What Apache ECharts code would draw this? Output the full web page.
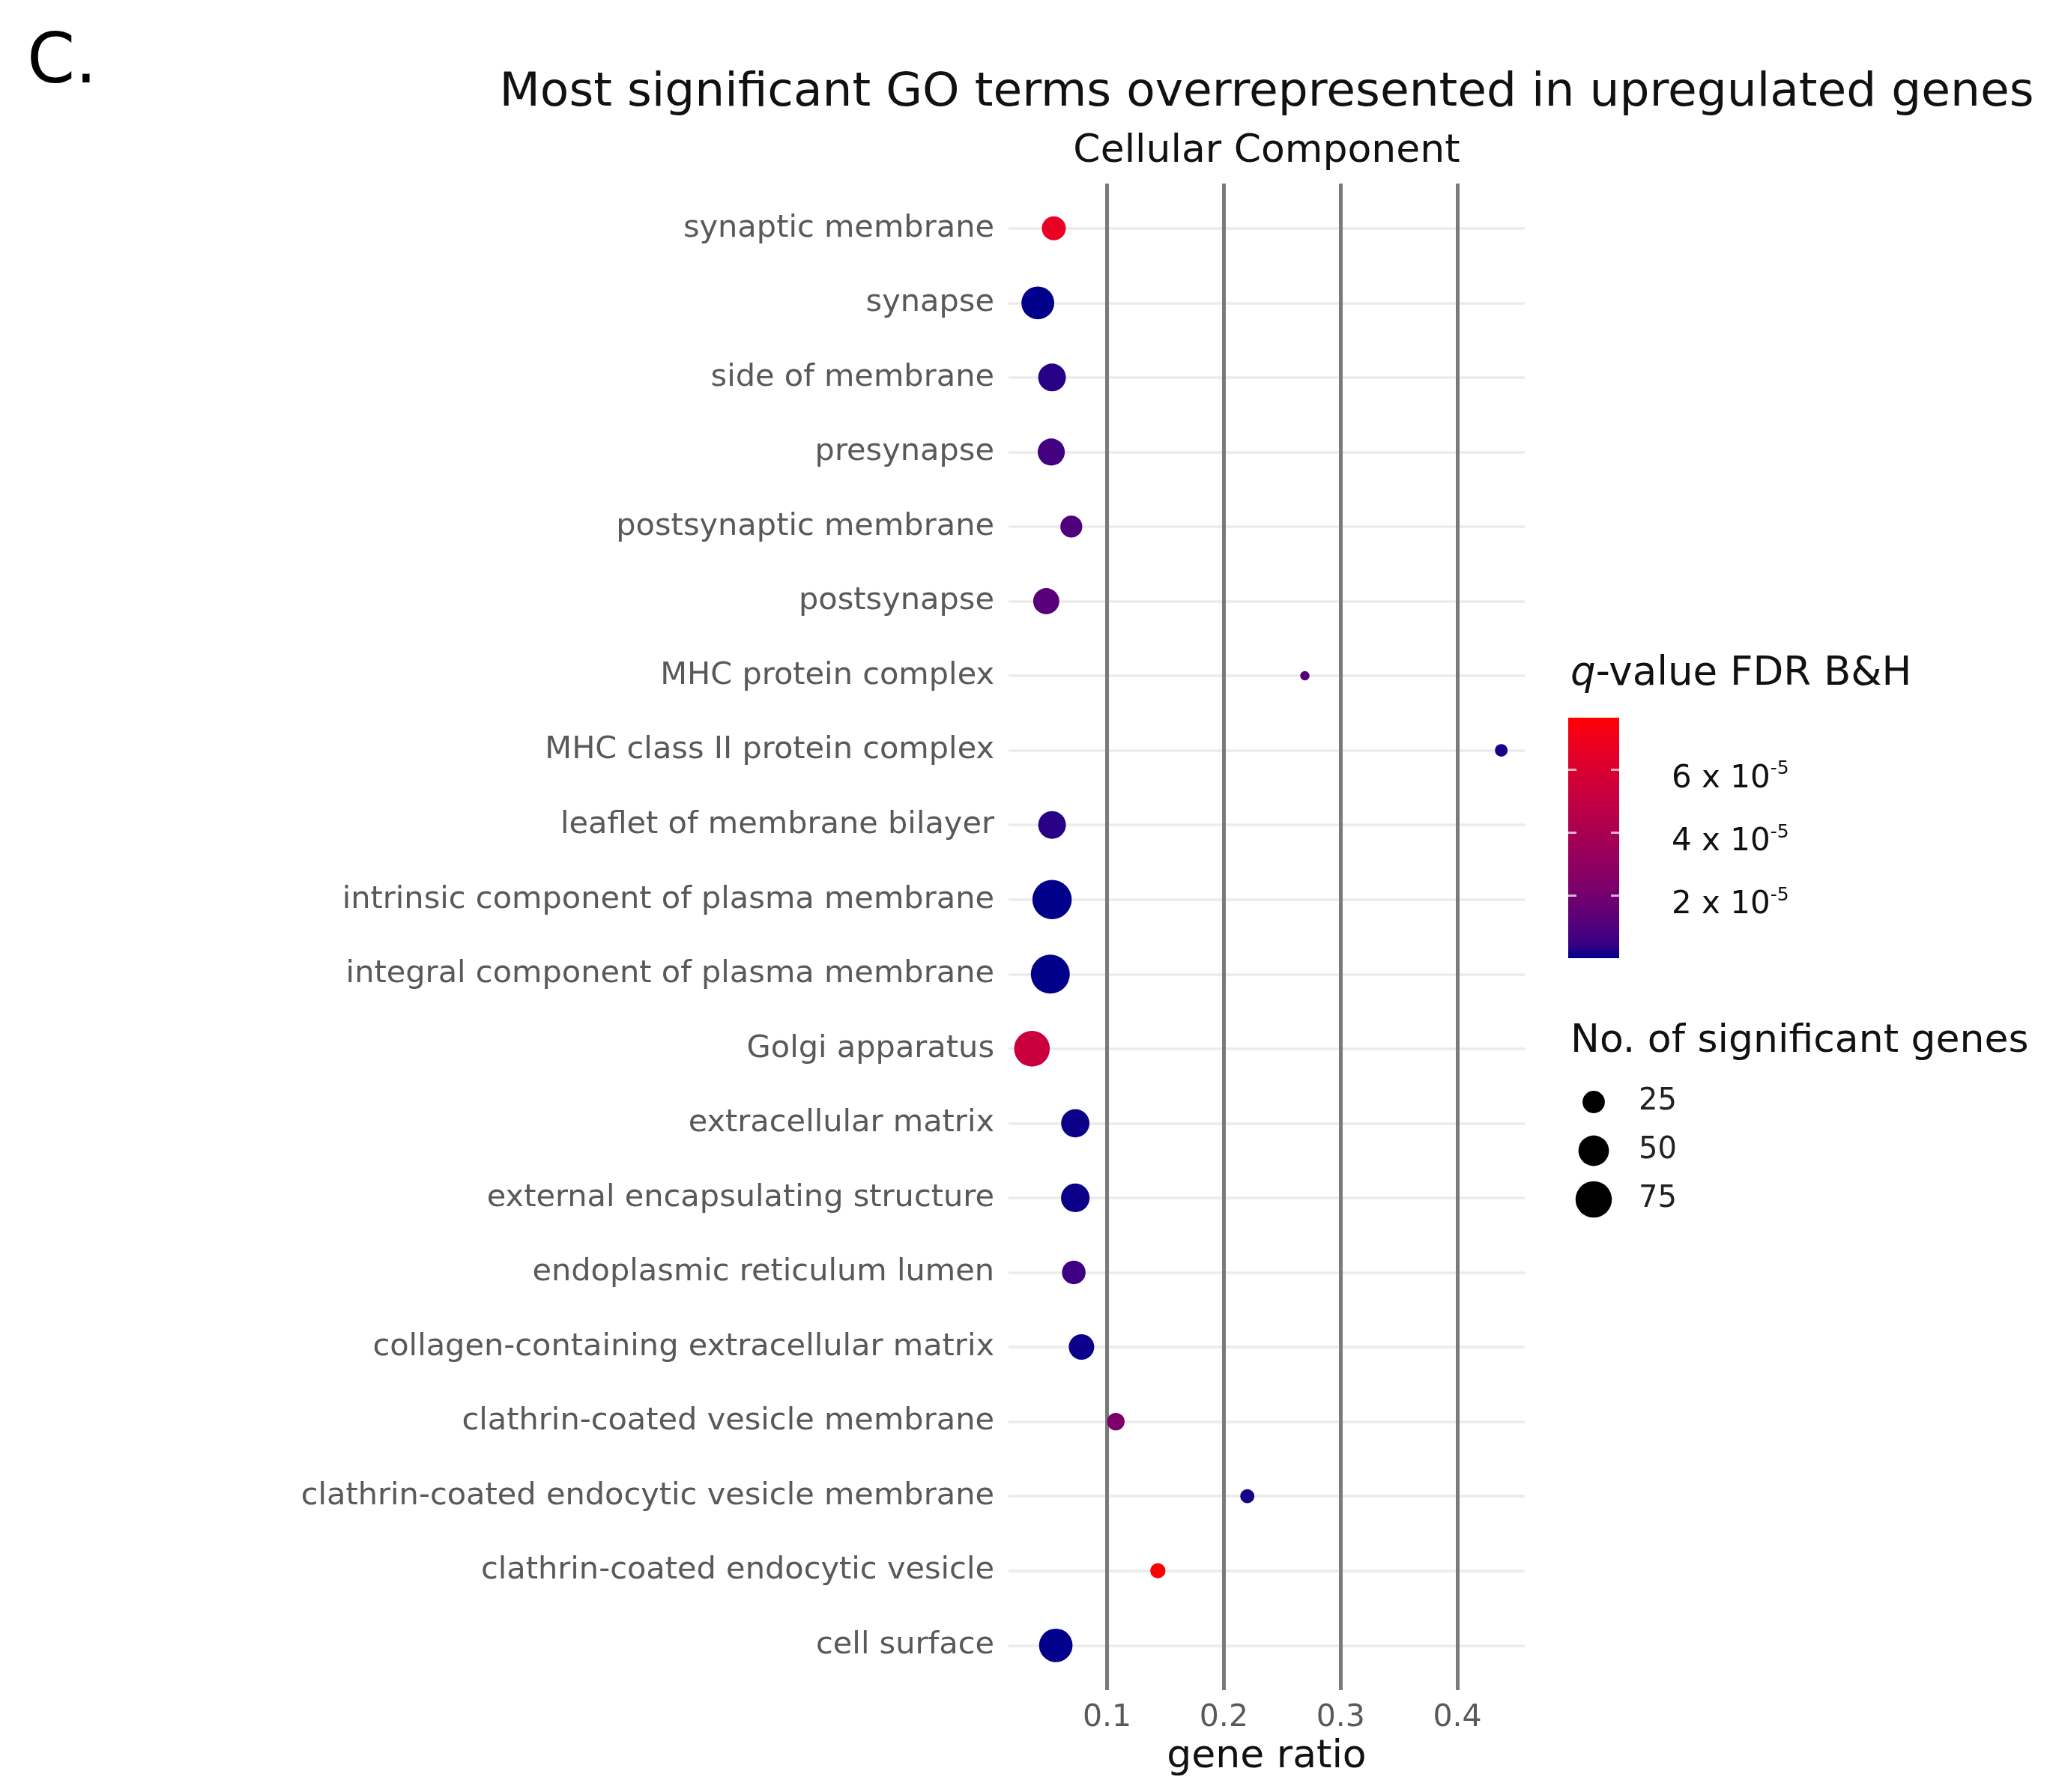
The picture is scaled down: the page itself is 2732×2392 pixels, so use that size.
<!DOCTYPE html>
<html>
<head>
<meta charset="utf-8">
<script src="https://cdn.jsdelivr.net/npm/echarts@6/dist/echarts.min.js"></script>
<style>
html,body{margin:0;padding:0;background:#fff;}
#chart{width:2732px;height:2392px;}
</style>
</head>
<body>
<div id="chart"></div>
<script>
// ---- data (top to bottom as shown) ----
const terms = [
  'synaptic membrane','synapse','side of membrane','presynapse','postsynaptic membrane',
  'postsynapse','MHC protein complex','MHC class II protein complex','leaflet of membrane bilayer',
  'intrinsic component of plasma membrane','integral component of plasma membrane','Golgi apparatus',
  'extracellular matrix','external encapsulating structure','endoplasmic reticulum lumen',
  'collagen-containing extracellular matrix','clathrin-coated vesicle membrane',
  'clathrin-coated endocytic vesicle membrane','clathrin-coated endocytic vesicle','cell surface'
];
const geneRatio = [0.0544,0.0407,0.0529,0.0522,0.0694,0.0479,0.2694,0.4376,0.0529,0.0529,
                   0.0514,0.0357,0.0728,0.0728,0.0715,0.0781,0.1075,0.2201,0.1435,0.0561];
const geneCount = [29,59,40,38,24,35,10,11,40,90,88,72,42,43,28,33,16,12,13,62];
const qValue = [6.7e-5,2e-7,0.3e-5,0.7e-5,1.0e-5,1.2e-5,1.0e-5,0.2e-5,0.3e-5,1e-7,
                1e-7,5.3e-5,1e-6,1e-6,0.6e-5,1e-6,2.3e-5,2e-6,7.64e-5,3e-7];
const xTicks = [0.1,0.2,0.3,0.4];
const qTicks = [2e-5,4e-5,6e-5];
const sizeBreaks = [25,50,75];

// ---- helpers ----
const FONT = 'DejaVu Sans';
function hex2rgb(h){return [parseInt(h.substr(1,2),16),parseInt(h.substr(3,2),16),parseInt(h.substr(5,2),16)];}
function toLab(h){
  const c = hex2rgb(h).map(v=>{v/=255;return v<=0.04045?v/12.92:Math.pow((v+0.055)/1.055,2.4);});
  let X=(0.4124*c[0]+0.3576*c[1]+0.1805*c[2])/0.95047;
  let Y=(0.2126*c[0]+0.7152*c[1]+0.0722*c[2]);
  let Z=(0.0193*c[0]+0.1192*c[1]+0.9505*c[2])/1.08883;
  const f=t=>t>0.008856?Math.cbrt(t):7.787*t+16/116;
  const fx=f(X),fy=f(Y),fz=f(Z);
  return [116*fy-16,500*(fx-fy),200*(fy-fz)];
}
function fromLab(L,a,b){
  const fy=(L+16)/116,fx=fy+a/500,fz=fy-b/200;
  const fi=t=>{const t3=t*t*t;return t3>0.008856?t3:(t-16/116)/7.787;};
  const X=0.95047*fi(fx),Y=fi(fy),Z=1.08883*fi(fz);
  let r=3.2406*X-1.5372*Y-0.4986*Z,g=-0.9689*X+1.8758*Y+0.0415*Z,bb=0.0557*X-0.2040*Y+1.0570*Z;
  const gm=v=>{v=v<=0.0031308?12.92*v:1.055*Math.pow(v,1/2.4)-0.055;return Math.round(Math.min(1,Math.max(0,v))*255);};
  return 'rgb('+gm(r)+','+gm(g)+','+gm(bb)+')';
}
const LOW='#00008B', HIGH='#FF0000';
const labLo=toLab(LOW), labHi=toLab(HIGH);
const NSTOP=24;
const colorStops=[];
for(let i=0;i<=NSTOP;i++){const t=i/NSTOP;colorStops.push(fromLab(labLo[0]+(labHi[0]-labLo[0])*t,labLo[1]+(labHi[1]-labLo[1])*t,labLo[2]+(labHi[2]-labLo[2])*t));}

const nMin=Math.min(...geneCount), nMax=Math.max(...geneCount);
const sizeFn = n => 12.5 + 40*Math.sqrt(Math.max(0,n-nMin)/(nMax-nMin));
const qMin=Math.min(...qValue), qMax=Math.max(...qValue);
const gMin=Math.min(...geneRatio), gMax=Math.max(...geneRatio);
const xMin=gMin-0.05*(gMax-gMin), xMax=gMax+0.05*(gMax-gMin);

// panel layout
const P_L=1346,P_R=2035,P_T=245,P_B=2256;
const rowStep=(P_B-P_T)/(terms.length-1+1.2);
const gridB_T=P_T+0.6*rowStep, gridB_B=P_B-0.6*rowStep;

const mainData = terms.map((t,i)=>[geneRatio[i], i, geneCount[i], qValue[i]]);
const legendData = sizeBreaks.map((s,i)=>[0,i,s]);

const gradStops = colorStops.slice().reverse().map((c,i)=>({offset:i/NSTOP,color:c}));

const chart = echarts.init(document.getElementById('chart'), null, {renderer:'canvas'});
chart.setOption({
  backgroundColor:'#ffffff',
  animation:false,
  textStyle:{fontFamily:FONT},
  grid:[
    {left:P_L, top:P_T, width:P_R-P_L, height:P_B-P_T},
    {left:P_L, top:gridB_T, width:P_R-P_L, height:gridB_B-gridB_T},
    {left:2093, top:958, width:68, height:321},
    {left:2110, top:1471, width:34, height:130}
  ],
  xAxis:[
    {gridIndex:0,type:'value',min:xMin,max:xMax,
     axisLine:{show:false},axisTick:{show:false,customValues:xTicks},
     axisLabel:{customValues:xTicks,fontSize:41,color:'#595959',margin:17,fontFamily:FONT,
       formatter:v=>String(Math.round(v*10)/10)},
     splitLine:{show:true,lineStyle:{color:'#7a7a7a',width:5}},
     name:'gene ratio',nameLocation:'middle',nameGap:63,
     nameTextStyle:{fontSize:52,color:'#111',fontFamily:FONT},z:2},
    {gridIndex:1,type:'value',min:xMin,max:xMax,show:false,splitLine:{show:false}},
    {gridIndex:2,type:'category',data:['q'],show:false},
    {gridIndex:3,type:'value',min:-1,max:1,show:false,splitLine:{show:false}}
  ],
  yAxis:[
    {gridIndex:0,type:'value',min:0,max:1,show:false,splitLine:{show:false}},
    {gridIndex:1,type:'category',data:terms,inverse:true,boundaryGap:false,
     axisLine:{show:false},axisTick:{show:false},
     axisLabel:{interval:0,fontSize:41.5,color:'#595959',margin:19,fontFamily:FONT,padding:[10,0,0,0]},
     splitLine:{show:true,interval:0,lineStyle:{color:'#ebebeb',width:3.5}},z:1},
    {gridIndex:2,type:'value',min:qMin,max:qMax,position:'right',
     axisLine:{show:false},
     axisTick:{show:true,inside:true,length:11,customValues:qTicks,lineStyle:{color:'rgba(255,255,255,0.7)',width:3}},
     axisLabel:{customValues:qTicks,margin:70,fontFamily:FONT,color:'#111',padding:[26,0,0,0],
       formatter:v=>{const e=Math.floor(Math.log10(v)+1e-9);const m=Math.round(v/Math.pow(10,e));return '{b|'+m+' x 10}{s|'+e+'}';},
       rich:{b:{fontSize:42,fontFamily:FONT,color:'#111'},s:{fontSize:25,fontFamily:FONT,color:'#111',padding:[0,0,26,0]}}},
     splitLine:{show:false},z:5},
    {gridIndex:2,type:'value',min:qMin,max:qMax,position:'left',
     axisLine:{show:false},axisLabel:{show:false},
     axisTick:{show:true,inside:true,length:11,customValues:qTicks,lineStyle:{color:'rgba(255,255,255,0.7)',width:3}},
     splitLine:{show:false},z:5},
    {gridIndex:3,type:'category',data:sizeBreaks.map(String),inverse:true,boundaryGap:false,position:'right',
     axisLine:{show:false},axisTick:{show:false},splitLine:{show:false},
     axisLabel:{interval:0,fontSize:40,color:'#222',margin:43,fontFamily:FONT}}
  ],
  visualMap:[{
    type:'continuous',show:false,seriesIndex:0,dimension:3,min:qMin,max:qMax,
    inRange:{color:colorStops}
  }],
  series:[
    {type:'scatter',xAxisIndex:1,yAxisIndex:1,data:mainData,symbol:'circle',
     symbolSize:v=>sizeFn(v[2]),itemStyle:{opacity:1},z:10,emphasis:{disabled:true}},
    {type:'bar',xAxisIndex:2,yAxisIndex:2,data:[qMax],barWidth:'100%',
     itemStyle:{color:new echarts.graphic.LinearGradient(0,0,0,1,gradStops)},z:1,emphasis:{disabled:true}},
    {type:'scatter',xAxisIndex:3,yAxisIndex:4,data:legendData,symbol:'circle',
     symbolSize:v=>sizeFn(v[2]),itemStyle:{color:'#000',opacity:1},emphasis:{disabled:true}}
  ],
  graphic:[
    {type:'text',left:36,top:40,style:{text:'C.',fontSize:92,fontFamily:FONT,fill:'#000'}},
    {type:'text',x:(P_L+P_R)/2,y:125,style:{text:'Most significant GO terms overrepresented in upregulated genes',
      fontSize:63,fontFamily:FONT,fill:'#111',align:'center',verticalAlign:'middle'}},
    {type:'text',x:(P_L+P_R)/2,y:202,style:{text:'Cellular Component',
      fontSize:52,fontFamily:FONT,fill:'#111',align:'center',verticalAlign:'middle'}},
    {type:'text',x:2096,y:900,style:{text:'{i|q}-value FDR B&H',fontSize:53,fontFamily:FONT,fill:'#111',
      verticalAlign:'middle',rich:{i:{fontStyle:'italic',fontSize:53,fontFamily:FONT,fill:'#111'}}}},
    {type:'text',x:2096,y:1390,style:{text:'No. of significant genes',fontSize:52,fontFamily:FONT,fill:'#111',verticalAlign:'middle'}}
  ]
});
</script>
</body>
</html>
